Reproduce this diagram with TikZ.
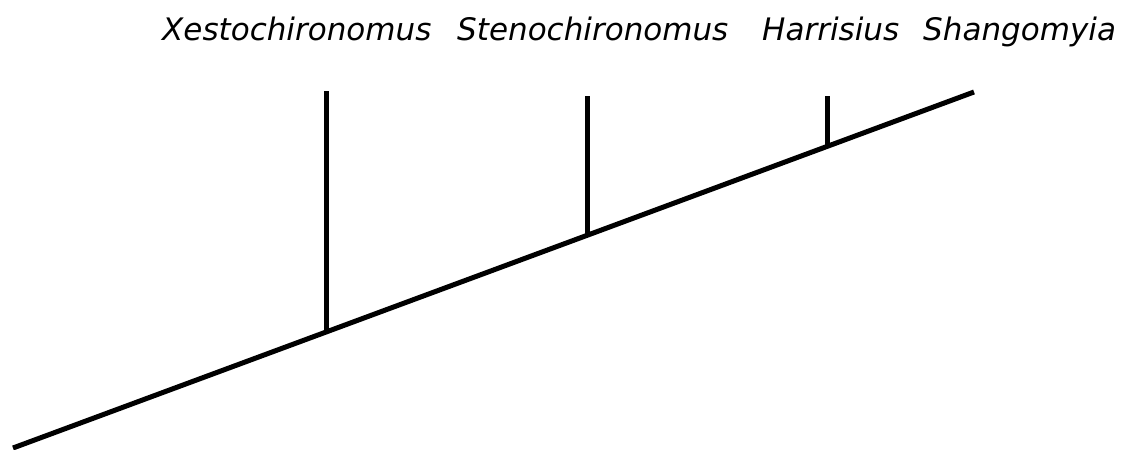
\documentclass[tikz,border=0pt]{standalone}
\usepackage{fontspec}
\setmainfont{DejaVu Sans}
\usetikzlibrary{positioning}

\begin{document}
\begin{tikzpicture}[x=1pt,y=1pt,
    taxon/.style={anchor=base west,inner sep=0pt,font=\fontsize{31}{31}\selectfont\itshape},
    branch/.style={black,line width=5pt}]
    \useasboundingbox (0,0) rectangle (1125,450);
    % backbone
    \coordinate (root) at (13,2);
    \coordinate (shan) at (974,358);
    \coordinate (nxes) at (326,118);
    \coordinate (nste) at (587,215);
    \coordinate (nhar) at (827,304);
    \coordinate (xes) at (326,359);
    \coordinate (ste) at (587,354);
    \coordinate (har) at (827,354);
    \draw[branch] (root) -- (shan);
    \draw[branch] (nxes) -- (xes);
    \draw[branch] (nste) -- (ste);
    \draw[branch] (nhar) -- (har);
    % names
    \node[taxon] (lxes) at (162,409) {Xestochironomus};
    \node[taxon] (lste) at (457,409) {Stenochironomus};
    \node[taxon] (lhar) at (762,409) {Harrisius};
    \node[taxon] (lshan) at (923,409) {Shangomyia};
\end{tikzpicture}
\end{document}
